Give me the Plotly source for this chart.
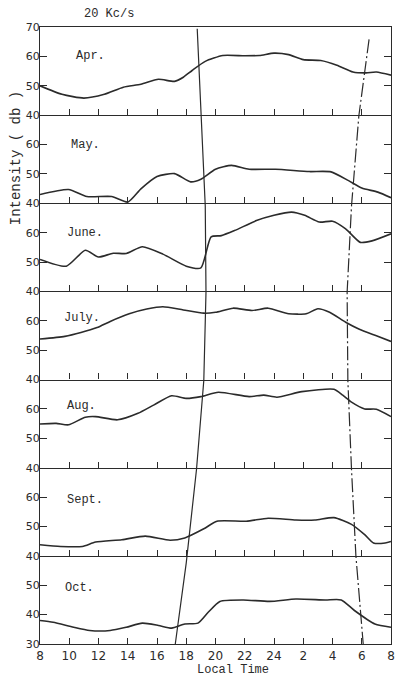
import plotly.graph_objects as go
from plotly.subplots import make_subplots

# ---------------- data ----------------
months = ["Apr.", "May.", "June.", "July.", "Aug.", "Sept.", "Oct."]

apr_t = [8, 9.5, 11.0, 12.4, 13.7, 14.9, 16.1, 17.2, 17.8, 18.4, 19.3, 20.5, 22.0, 23.0, 24.0, 25.0, 26.0, 27.2, 28.3, 29.4, 30.3, 31.0, 32.0]
apr_v = [50.0, 47.1, 45.8, 47.1, 49.5, 50.5, 52.2, 51.5, 52.9, 55.2, 58.3, 60.3, 60.2, 60.3, 61.1, 60.6, 58.9, 58.6, 57.0, 54.7, 54.4, 54.7, 53.6]

may_t = [8, 9.95, 11.2, 12.9, 14.0, 14.9, 16.0, 17.2, 18.3, 19.0, 20.0, 21.1, 22.3, 24.1, 26.4, 27.9, 29.1, 30.0, 31.1, 32.0]
may_v = [43.0, 44.7, 42.3, 42.3, 40.4, 44.9, 49.1, 50.1, 47.3, 48.2, 51.6, 52.9, 51.6, 51.6, 50.8, 50.7, 47.7, 45.2, 43.8, 41.9]

jun_t = [8, 9.8, 11.1, 12.0, 13.0, 13.9, 15.0, 16.4, 18.0, 19.0, 19.7, 20.4, 21.3, 22.8, 24.0, 25.2, 26.1, 27.1, 28.0, 28.9, 29.9, 30.7, 32.0]
jun_v = [50.9, 48.6, 54.0, 51.7, 53.0, 52.9, 55.2, 52.7, 48.6, 48.0, 58.6, 59.0, 60.7, 64.1, 65.9, 67.0, 65.9, 63.6, 63.9, 61.3, 56.7, 57.2, 59.6]

jul_t = [8, 9.7, 10.8, 11.9, 12.8, 14.1, 15.3, 16.4, 17.8, 19.2, 20.0, 21.2, 22.5, 23.6, 25.0, 26.2, 27.0, 27.8, 28.9, 29.8, 31.0, 32.0]
jul_v = [53.8, 54.7, 56.0, 57.7, 59.8, 62.4, 64.0, 64.8, 63.7, 62.6, 62.9, 64.3, 63.5, 64.3, 62.4, 62.4, 64.1, 62.9, 59.5, 57.2, 54.9, 53.0]

aug_t = [8, 9.1, 9.95, 11.1, 11.8, 13.3, 14.7, 15.8, 17.0, 18.0, 19.0, 20.2, 22.3, 23.3, 24.2, 25.9, 28.1, 28.7, 29.3, 30.2, 31.0, 32.0]
aug_v = [54.9, 55.1, 54.6, 57.2, 57.4, 56.3, 58.5, 61.4, 64.5, 63.6, 64.2, 65.7, 64.2, 64.7, 64.0, 65.9, 66.7, 64.7, 62.3, 60.0, 59.9, 57.4]

sep_t = [8, 9.4, 10.9, 11.8, 13.6, 15.2, 16.9, 17.9, 19.2, 20.1, 22.1, 23.6, 25.5, 26.8, 28.1, 29.3, 30.2, 30.8, 31.6, 32.0]
sep_v = [43.8, 43.2, 43.2, 44.7, 45.5, 46.7, 45.3, 46.1, 49.2, 51.8, 51.8, 52.8, 52.2, 52.2, 53.0, 50.7, 47.2, 44.4, 44.4, 44.9]

oct_t = [8, 8.9, 10.3, 11.4, 12.8, 13.9, 15.0, 16.1, 17.0, 17.9, 18.8, 19.5, 20.3, 21.9, 23.7, 25.5, 27.5, 28.6, 29.5, 30.9, 32.0]
oct_v = [38.0, 37.4, 35.7, 34.6, 34.6, 35.7, 37.1, 36.3, 35.4, 36.8, 37.1, 40.8, 44.5, 45.0, 44.5, 45.3, 45.0, 45.0, 41.4, 36.8, 35.7]

series_t = [apr_t, may_t, jun_t, jul_t, aug_t, sep_t, oct_t]
series_v = [apr_v, may_v, jun_v, jul_v, aug_v, sep_v, oct_v]

y_ranges = [[40, 70], [40, 70], [40, 70], [40, 70], [40, 70], [40, 70], [30, 60]]
y_ticks = [[40, 50, 60, 70], [40, 50, 60], [40, 50, 60], [40, 50, 60], [40, 50, 60], [40, 50, 60], [30, 40, 50]]
label_level = [60, 60, 60, 61, 61, 59, 49]
label_hour = [10.3, 10.0, 9.7, 9.5, 9.7, 9.7, 9.6]

x_tickvals = [8, 10, 12, 14, 16, 18, 20, 22, 24, 26, 28, 30, 32]
x_ticktext = ["8", "10", "12", "14", "16", "18", "20", "22", "24", "2", "4", "6", "8"]

# sunset / sunrise lines: panel level (7 = top of Apr, 0 = bottom of Oct)
sunset_level = [6.98, 5.99, 4.97, 3.99, 2.99, 1.98, 1.0, 0.92, 0.0]
sunset_t = [18.75, 19.0, 19.3, 19.35, 19.2, 18.7, 18.1, 18.0, 17.25]
sunrise_level = [6.86, 5.99, 4.97, 3.99, 2.99, 1.98, 1.0, 0.0]
sunrise_t = [30.5, 29.8, 29.3, 29.0, 29.05, 29.3, 29.6, 30.1]

# ---------------- figure ----------------
INK = "#2b2b2b"
MONO = "Liberation Mono, Courier New, monospace"
HAND = "DejaVu Sans, Arial, sans-serif"

fig = make_subplots(rows=7, cols=1, shared_xaxes=False, vertical_spacing=0)

for i in range(7):
    r = i + 1
    fig.add_trace(go.Scatter(x=series_t[i], y=series_v[i], mode="lines",
                             line=dict(color=INK, width=1.6, shape="spline", smoothing=0.6),
                             hoverinfo="skip", showlegend=False), row=r, col=1)
    fig.update_xaxes(range=[8, 32], tickvals=x_tickvals, ticktext=x_ticktext,
                     ticks="inside", ticklen=6, tickwidth=1, tickcolor=INK,
                     showline=True, linecolor=INK, linewidth=1.3, mirror=(r == 1),
                     showgrid=False, zeroline=False,
                     showticklabels=(r == 7), ticklabeloverflow="allow",
                     tickfont=dict(family=HAND, size=12, color=INK),
                     row=r, col=1)
    fig.update_yaxes(range=y_ranges[i], tickvals=y_ticks[i],
                     ticks="inside", ticklen=7, tickwidth=1, tickcolor=INK,
                     showline=True, linecolor=INK, linewidth=1.3, mirror="ticks",
                     showgrid=False, zeroline=False, ticklabelstandoff=-3,
                     tickfont=dict(family=HAND, size=11, color=INK),
                     row=r, col=1)
    xref = "x" if r == 1 else f"x{r}"
    yref = "y" if r == 1 else f"y{r}"
    fig.add_annotation(x=label_hour[i], y=label_level[i], xref=xref, yref=yref,
                       text=months[i], showarrow=False, xanchor="left", yanchor="middle",
                       font=dict(family=MONO, size=12, color=INK))

# overlay axis for sun lines
fig.add_trace(go.Scatter(x=sunset_t, y=sunset_level, mode="lines",
                         line=dict(color=INK, width=1.2),
                         xaxis="x8", yaxis="y8", hoverinfo="skip", showlegend=False))
fig.add_trace(go.Scatter(x=sunrise_t, y=sunrise_level, mode="lines",
                         line=dict(color=INK, width=1.2, dash="14px,3px,2px,3px"),
                         xaxis="x8", yaxis="y8", hoverinfo="skip", showlegend=False))
fig.update_layout(
    xaxis8=dict(domain=[0, 1], range=[8, 32], anchor="y8", visible=False),
    yaxis8=dict(domain=[0, 1], range=[0, 7], anchor="x8", visible=False),
)

fig.add_annotation(x=0.196, y=1.021, xref="paper", yref="paper", text="20 Kc/s",
                   xanchor="center", yanchor="middle",
                   showarrow=False, font=dict(family=MONO, size=12, color=INK))
fig.add_annotation(x=-0.07, y=0.788, xref="paper", yref="paper", text="Intensity ( db )",
                   xanchor="center", yanchor="middle",
                   textangle=-90, showarrow=False, font=dict(family=MONO, size=14, color=INK))
fig.add_annotation(x=0.55, y=-0.042, xref="paper", yref="paper", text="Local Time",
                   xanchor="center", yanchor="middle",
                   showarrow=False, font=dict(family=MONO, size=12, color=INK))

fig.update_layout(width=400, height=678,
                  margin=dict(l=40, r=5, t=27, b=34),
                  paper_bgcolor="white", plot_bgcolor="rgba(0,0,0,0)",
                  showlegend=False)

fig.write_html("out.html")
